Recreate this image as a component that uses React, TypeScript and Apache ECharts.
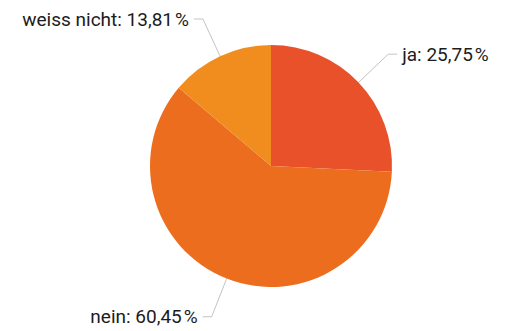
import React, { useEffect, useRef } from "react";
import * as echarts from "echarts";

const categories = ["ja", "nein", "weiss nicht"];
const values = [25.75, 60.45, 13.81];
const valueLabels = ["25,75", "60,45", "13,81"];
const colors = ["#E8512A", "#ED6D1F", "#F08D1E"];

export default function App() {
  const ref = useRef<HTMLDivElement>(null);
  useEffect(() => {
    document.body.style.margin = "0";
    if (!ref.current) return;
    const chart = echarts.init(ref.current, undefined, { renderer: "svg" });
    chart.setOption({
      animation: false,
      backgroundColor: "#ffffff",
      series: [
        {
          type: "pie",
          center: [271, 166],
          radius: 121,
          startAngle: 90,
          clockwise: true,
          avoidLabelOverlap: false,
          data: categories.map((c, i) => ({
            name: c,
            value: values[i],
            itemStyle: { color: colors[i] },
          })),
          label: {
            show: true,
            position: "outside",
            formatter: (p: any) => `${p.name}: ${valueLabels[p.dataIndex]}\u200A%`,
            color: "#1c1c1c",
            fontSize: 19,
            fontFamily: "Roboto, 'Liberation Sans', Arial, sans-serif",
            distanceToLabelLine: 5,
          },
          labelLine: {
            show: true,
            length: 41,
            length2: 9,
            smooth: false,
            lineStyle: { color: "#c4c4c4", width: 1 },
          },
          emphasis: { disabled: true },
        },
      ],
    });
    return () => chart.dispose();
  }, []);
  return <div ref={ref} style={{ width: 508, height: 331 }} />;
}
